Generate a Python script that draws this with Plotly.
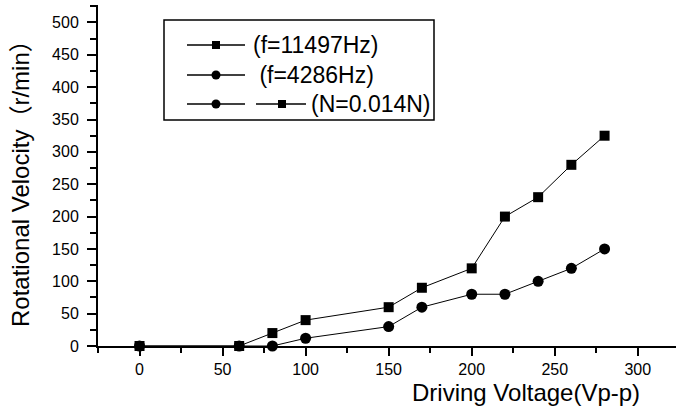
import plotly.graph_objects as go

# Data
volt_f1 = [0, 60, 80, 100, 150, 170, 200, 220, 240, 260, 280]
vel_f1 = [0, 0, 20, 40, 60, 90, 120, 200, 230, 280, 325]
volt_f2 = [0, 60, 80, 100, 150, 170, 200, 220, 240, 260, 280]
vel_f2 = [0, 0, 0, 12, 30, 60, 80, 80, 100, 120, 150]
x_ticks = [0, 50, 100, 150, 200, 250, 300]
y_ticks = [0, 50, 100, 150, 200, 250, 300, 350, 400, 450, 500]
legend_labels = ["(f=11497Hz)", " (f=4286Hz)", "(N=0.014N)"]

FONT = "Arial, Liberation Sans, sans-serif"
W, H = 676, 412
L, R, T, B = 98, 0, 5, 66
PW, PH = W - L - R, H - T - B


def px2paper(px, py):
    return (px - L) / PW, (H - B - py) / PH


fig = go.Figure()
fig.add_trace(go.Scatter(x=volt_f2, y=vel_f2, mode="lines+markers", cliponaxis=False,
                         line=dict(color="black", width=1),
                         marker=dict(symbol="circle", size=11, color="black"), showlegend=False))
fig.add_trace(go.Scatter(x=volt_f1, y=vel_f1, mode="lines+markers", cliponaxis=False,
                         line=dict(color="black", width=1),
                         marker=dict(symbol="square", size=10, color="black"), showlegend=False))

# Legend drawn on an overlay axis measured in pixels
def px_trace(xs, ys, sym=None, size=8):
    mode = "lines" if sym is None else "markers"
    fig.add_trace(go.Scatter(x=xs, y=ys, mode=mode, xaxis="x2", yaxis="y2", cliponaxis=False,
                             line=dict(color="black", width=1.5),
                             marker=dict(symbol=sym or "circle", size=size, color="black"),
                             showlegend=False, hoverinfo="skip"))

rows_y = [45, 75, 104]
syms = ["square", "circle", "circle"]
for ry, s in zip(rows_y, syms):
    px_trace([187, 245], [ry, ry])
    px_trace([216], [ry], s, 9 if s == "circle" else 8)
px_trace([256, 306], [rows_y[2], rows_y[2]])
px_trace([282], [rows_y[2]], "square", 8)

text_x = [251, 251, 309]
for tx, ry, lab in zip(text_x, rows_y, legend_labels):
    fig.add_annotation(x=tx, y=ry, xref="x2", yref="y2", text=lab, showarrow=False,
                       xanchor="left", yanchor="middle", font=dict(family=FONT, size=23, color="black"))

fig.add_shape(type="rect", xref="x2", yref="y2", x0=164, x1=434, y0=20, y1=120,
              line=dict(color="black", width=1.5), fillcolor="rgba(0,0,0,0)")

# Axis titles (paper coordinates)
ax, ay = px2paper(526, 393)
fig.add_annotation(x=ax, y=ay, xref="paper", yref="paper", text="Driving Voltage(Vp-p)", showarrow=False,
                   xanchor="center", yanchor="middle", font=dict(family=FONT, size=24, color="black"))
bx, by = px2paper(20, 178)
fig.add_annotation(x=bx, y=by, xref="paper", yref="paper", text="Rotational Velocity（r/min）", showarrow=False,
                   textangle=-90, xanchor="center", yanchor="middle",
                   font=dict(family=FONT + ", Noto Sans CJK SC", size=24, color="black"))

fig.update_layout(
    width=W, height=H, margin=dict(l=L, r=R, t=T, b=B),
    paper_bgcolor="white", plot_bgcolor="white",
    font=dict(family=FONT, color="black"),
    xaxis=dict(range=[-25, 323], tickvals=x_ticks, ticktext=[str(v) for v in x_ticks],
               showline=True, linecolor="black", linewidth=2, ticks="outside", ticklen=8, tickwidth=2,
               tickcolor="black", showgrid=False, zeroline=False, tickfont=dict(size=16, family=FONT),
               minor=dict(dtick=25, tick0=0, ticks="outside", ticklen=5, tickwidth=2, tickcolor="black"),
               fixedrange=True),
    yaxis=dict(range=[0, 527], tickvals=y_ticks, ticktext=[str(v) for v in y_ticks],
               showline=True, linecolor="black", linewidth=2, ticks="outside", ticklen=9, tickwidth=2,
               tickcolor="black", showgrid=False, zeroline=False, tickfont=dict(size=16, family=FONT),
               minor=dict(dtick=25, tick0=0, ticks="outside", ticklen=6, tickwidth=2, tickcolor="black"),
               ticklabelstandoff=5, fixedrange=True),
    xaxis2=dict(overlaying="x", range=[L, W - R], visible=False, fixedrange=True),
    yaxis2=dict(overlaying="y", range=[H - B, T], visible=False, fixedrange=True),
)

fig.write_html("out.html", config={"displayModeBar": False})
